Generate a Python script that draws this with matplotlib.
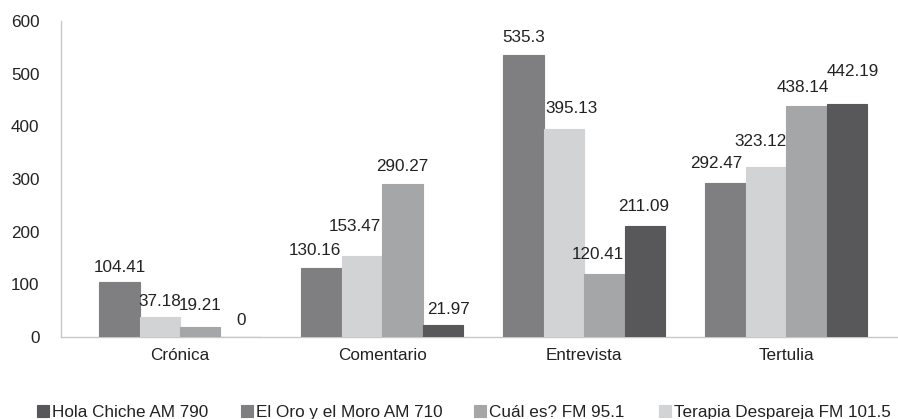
import numpy as np
import matplotlib
matplotlib.use('Agg')
import matplotlib.pyplot as plt

plt.rcParams['font.family'] = ['Liberation Sans', 'DejaVu Sans']

# Data
categories = ['Crónica', 'Comentario', 'Entrevista', 'Tertulia']
el_oro = [104.41, 130.16, 535.3, 292.47]
terapia = [37.18, 153.47, 395.13, 323.12]
cual_es = [19.21, 290.27, 120.41, 438.14]
hola = [0, 21.97, 211.09, 442.19]
y_ticks = [0, 100, 200, 300, 400, 500, 600]

# bar order inside each group (left to right) and legend order differ
series = [
    ('El Oro y el Moro AM 710', el_oro, '#7f7f82'),
    ('Terapia Despareja FM 101.5', terapia, '#d2d3d5'),
    ('Cuál es? FM 95.1', cual_es, '#a5a6a8'),
    ('Hola Chiche AM 790', hola, '#58585a'),
]
legend_order = [3, 0, 2, 1]
legend_x = [37, 241, 474, 659]  # pixel positions of legend squares

# small label nudges (pixels) to mimic the original label placement
label_dx = [[0, 0, 0, 0], [-7, -7, 0, 6], [0, 8, -7, -1], [-9, -6, -4, 6]]
label_dy = [[-3, -2, 4, -1], [0, 12, 0, -2], [0, 3, 2, 2], [2, 8, 1, 15]]

fs = 12.3
fig = plt.figure(figsize=(8.98, 4.19), dpi=100)
ax = fig.add_axes([61 / 898, 1 - 337 / 419, 837 / 898, 316 / 419])

x = np.arange(len(categories))
width = 0.2
handles = []
for i, (name, vals, color) in enumerate(series):
    pos = x - 0.3 + i * width
    b = ax.bar(pos, vals, width, color=color, edgecolor=color, linewidth=0.8,
               label=name, zorder=3)
    handles.append(b)
    for j, v in enumerate(vals):
        ax.annotate(f'{v:g}', (pos[j], v),
                    xytext=(label_dx[j][i] * 0.72, (17.5 + label_dy[j][i]) * 0.72),
                    textcoords='offset points', ha='center', va='center',
                    fontsize=fs, color='#222222')

ax.set_xlim(-0.589, 3.553)
ax.set_ylim(0, 600)
ax.set_yticks(y_ticks)
ax.set_xticks(x)
ax.set_xticklabels(categories)
ax.tick_params(axis='y', length=0, pad=15.5, labelsize=fs, labelcolor='#222222')
ax.tick_params(axis='x', length=0, pad=8, labelsize=fs, labelcolor='#222222')
for s in ['top', 'right']:
    ax.spines[s].set_visible(False)
for s in ['left', 'bottom']:
    ax.spines[s].set_color('#c8c8c8')
    ax.spines[s].set_linewidth(1.0)

# one legend per entry so each sits where it does in the original
for k, px in zip(legend_order, legend_x):
    fig.legend([handles[k]], [series[k][0]],
               loc='center left', bbox_to_anchor=(px / 898, 1 - 412 / 419),
               frameon=False, fontsize=fs, borderpad=0, borderaxespad=0,
               handlelength=0.7, handleheight=0.7, handletextpad=0.18,
               labelcolor='#222222')

fig.savefig('out.png', dpi=100)
